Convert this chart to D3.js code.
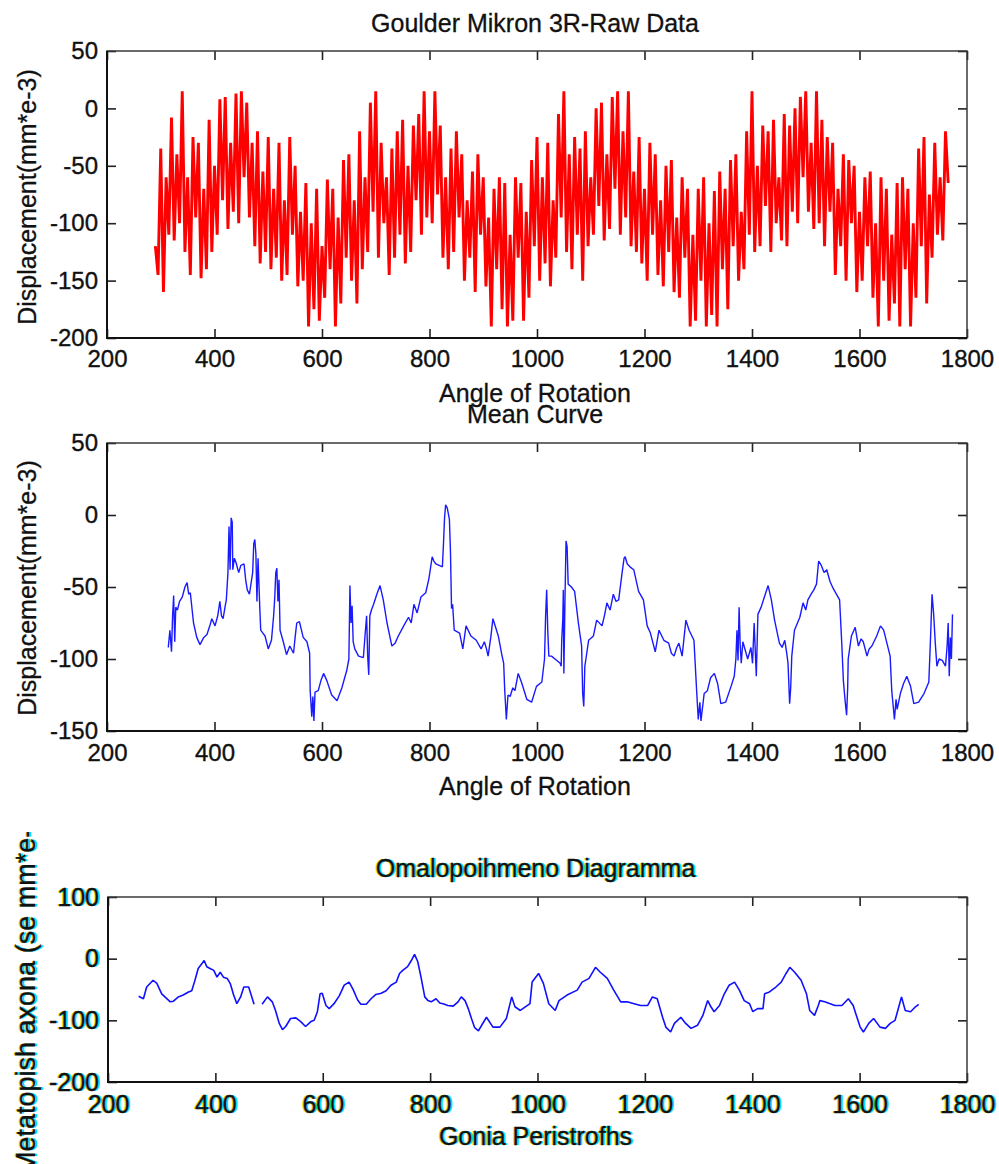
<!DOCTYPE html>
<html>
<head>
<meta charset="utf-8">
<script src="https://cdn.jsdelivr.net/npm/d3@7"></script>
<style>
  html, body { margin: 0; padding: 0; background: #fff; }
  svg { display: block; }
</style>
</head>
<body>
<svg id="chart" width="999" height="1164"></svg>
<script>
// ---- data -------------------------------------------------------------
const xTicks = [200, 400, 600, 800, 1000, 1200, 1400, 1600, 1800];
const rawYTicks = [50, 0, -50, -100, -150, -200];
const meanYTicks = [50, 0, -50, -100, -150];
const flatYTicks = [100, 0, -100, -200];

// raw probe readings, one every 5 degrees starting at 290 deg
const rawStart = 290, rawStep = 5;
const rawDisp = [
  -120, -145, -35, -160, -60, -110, -8, -115, -40, -100,
  15, -125, -60, -145, -25, -95, -30, -148, -70, -140,
  -10, -125, -50, -110, 8, -80, 10, -105, -30, -90,
  13, -100, 15, -60, 5, -95, -30, -120, -20, -135,
  -55, -125, -25, -140, -70, -130, -30, -150, -80, -145,
  -25, -110, -50, -155, -90, -150, -65, -190, -100, -175,
  -70, -185, -120, -165, -62, -140, -70, -190, -95, -170,
  -45, -130, -40, -150, -80, -170, -20, -140, -60, -125,
  5, -90, 15, -130, -30, -100, -60, -145, -35, -130,
  -20, -110, -10, -135, -50, -125, -15, -80, -5, -110,
  15, -95, -20, -100, 15, -75, -15, -130, -60, -140,
  -35, -125, -20, -95, -40, -150, -80, -130, -55, -160,
  -40, -110, -60, -155, -95, -190, -70, -140, -60, -175,
  -65, -190, -110, -185, -60, -130, -65, -185, -90, -165,
  -45, -120, -25, -150, -60, -135, -30, -155, -80, -130,
  -5, -95, 15, -125, -40, -140, -25, -110, -35, -150,
  -20, -120, -60, -110, 0, -85, 5, -115, -40, -105,
  10, -70, 15, -110, -20, -95, 15, -120, -55, -125,
  -25, -135, -70, -150, -30, -110, -40, -145, -80, -155,
  -50, -125, -45, -160, -95, -165, -60, -130, -70, -190,
  -110, -185, -70, -150, -60, -190, -100, -180, -72, -190,
  -55, -140, -70, -175, -45, -120, -40, -150, -90, -140,
  -20, -110, 15, -125, -50, -120, -15, -85, -20, -125,
  -10, -100, -60, -115, -5, -120, -15, -90, 0, -100,
  10, -60, 15, -90, -30, -105, 15, -100, -10, -120,
  -25, -90, -30, -145, -70, -120, -40, -150, -45, -100,
  -50, -160, -90, -150, -60, -120, -55, -165, -100, -190,
  -60, -150, -70, -185, -110, -170, -65, -190, -60, -140,
  -70, -190, -100, -165, -35, -120, -25, -170, -75, -130,
  -30, -110, -60, -115, -20, -65
];

// averaged curve
const meanAngle = [
  314, 317, 320, 322, 324, 326, 328, 331, 335, 340, 345, 349, 352, 355, 361, 367, 373, 380, 386, 392,
  395, 401, 406, 410, 413, 416, 420, 422, 425, 427, 429, 431, 433, 434, 437, 440, 445, 449, 455, 458,
  461, 465, 467, 471, 473, 475, 477, 479, 481, 484, 486, 490, 494, 500, 506, 510, 512, 514, 516, 518,
  520, 522, 528, 534, 540, 547, 550, 553, 558, 565, 572, 577, 578, 581, 583, 585, 587, 593, 598, 603,
  609, 618, 628, 637, 646, 650, 652, 654, 656, 658, 661, 668, 677, 680, 683, 685, 687, 689, 692, 696,
  702, 708, 714, 721, 730, 736, 742, 752, 761, 766, 771, 777, 784, 793, 799, 805, 808, 812, 818, 824,
  826, 828, 830, 833, 837, 839, 841, 843, 846, 856, 862, 868, 877, 887, 896, 902, 906, 909, 914, 918,
  923, 928, 934, 938, 940, 943, 946, 950, 955, 959, 965, 971, 981, 990, 999, 1009, 1014, 1016, 1018, 1020,
  1022, 1027, 1037, 1043, 1045, 1046, 1048, 1049, 1050, 1052, 1054, 1056, 1058, 1064, 1070, 1077, 1083, 1085, 1087, 1089,
  1091, 1096, 1105, 1111, 1121, 1126, 1130, 1136, 1142, 1147, 1152, 1158, 1162, 1164, 1168, 1173, 1180, 1189, 1198, 1205,
  1211, 1220, 1227, 1236, 1245, 1250, 1255, 1260, 1264, 1270, 1277, 1283, 1292, 1297, 1300, 1303, 1305, 1311, 1317, 1323,
  1330, 1336, 1342, 1351, 1361, 1367, 1370, 1372, 1374, 1376, 1378, 1380, 1383, 1392, 1398, 1401, 1404, 1408, 1411, 1417,
  1423, 1430, 1436, 1442, 1451, 1456, 1461, 1465, 1467, 1470, 1472, 1474, 1479, 1489, 1495, 1500, 1504, 1510, 1515, 1520,
  1524, 1529, 1534, 1539, 1545, 1551, 1557, 1563, 1567, 1570, 1573, 1576, 1578, 1579, 1585, 1592, 1598, 1603, 1607, 1614,
  1618, 1623, 1632, 1639, 1645, 1651, 1657, 1660, 1665, 1668, 1670, 1676, 1682, 1688, 1695, 1701, 1710, 1720, 1729, 1732,
  1735, 1738, 1741, 1744, 1748, 1754, 1760, 1763, 1765, 1767, 1769, 1771, 1773
];
const meanDisp = [
  -92, -80, -95, -70, -56, -88, -64, -66, -60, -57, -50, -47, -55, -54, -75, -85, -90, -85, -83, -76,
  -72, -77, -70, -60, -70, -72, -63, -59, -40, -8, -38, -2, -5, -38, -30, -33, -40, -35, -34, -45,
  -52, -55, -50, -40, -20, -17, -27, -60, -30, -62, -80, -82, -84, -93, -87, -70, -58, -40, -37, -60,
  -45, -80, -88, -97, -91, -96, -85, -75, -74, -85, -88, -96, -122, -140, -126, -143, -123, -122, -115, -110,
  -115, -125, -129, -120, -108, -100, -49, -75, -63, -88, -93, -98, -99, -84, -70, -98, -111, -70, -66, -62,
  -55, -49, -59, -75, -91, -89, -84, -77, -71, -75, -62, -68, -57, -54, -44, -29, -32, -34, -35, -36,
  -20, -2, 7, 5, -3, -25, -65, -62, -80, -82, -93, -77, -84, -87, -93, -88, -93, -98, -85, -72,
  -78, -84, -96, -103, -122, -142, -125, -126, -120, -122, -110, -116, -128, -130, -119, -116, -100, -70, -52, -80,
  -98, -98, -101, -103, -105, -87, -72, -52, -110, -60, -18, -22, -48, -50, -53, -75, -91, -124, -133, -105,
  -100, -87, -84, -73, -77, -69, -61, -66, -55, -60, -59, -41, -30, -29, -34, -36, -38, -53, -59, -77,
  -82, -95, -80, -87, -89, -96, -98, -92, -89, -98, -73, -80, -87, -122, -142, -130, -143, -124, -122, -113,
  -110, -117, -131, -130, -119, -112, -100, -80, -101, -64, -90, -103, -88, -100, -92, -103, -75, -112, -69, -64,
  -57, -49, -59, -73, -89, -92, -87, -97, -103, -131, -120, -98, -80, -71, -61, -66, -59, -55, -52, -48,
  -32, -35, -40, -38, -46, -51, -55, -59, -89, -115, -128, -139, -120, -100, -84, -78, -91, -86, -88, -98,
  -93, -91, -84, -77, -80, -89, -98, -122, -142, -128, -135, -124, -117, -112, -119, -131, -130, -124, -116, -87,
  -55, -69, -89, -105, -100, -101, -105, -91, -75, -112, -85, -100, -69
];

// smoothed curve (null marks the break in the trace)
const flatAngle = [
  257, 266, 272, 284, 291, 300, 306, 316, 322, 331, 340, 350, 356, 362, 368, 375, 379, 384, 390, 397,
  403, 409, 415, 422, 428, 434, 440, 447, 453, 462, 466, 472, 480, 487, 497, 506, 512, 519, 525, 531,
  540, 550, 559, 568, 578, 584, 590, 595, 599, 606, 612, 621, 631, 640, 649, 656, 665, 671, 681, 690,
  699, 709, 718, 727, 737, 743, 749, 758, 765, 771, 777, 783, 790, 796, 802, 811, 818, 824, 833, 843,
  852, 858, 865, 871, 877, 883, 890, 896, 905, 917, 930, 942, 952, 958, 968, 986, 990, 1002, 1011, 1021,
  1033, 1040, 1055, 1074, 1083, 1096, 1108, 1117, 1130, 1142, 1155, 1167, 1180, 1192, 1205, 1214, 1223, 1233, 1239, 1248,
  1255, 1267, 1276, 1286, 1298, 1308, 1317, 1323, 1329, 1339, 1348, 1357, 1367, 1376, 1385, 1395, 1401, 1410, 1420, 1423,
  1432, 1444, 1454, 1463, 1470, 1479, 1491, 1501, 1507, 1516, 1523, 1526, 1535, 1554, 1567, 1579, 1588, 1595, 1601, 1607,
  1617, 1626, 1638, 1648, 1657, 1666, 1673, 1678, 1685, 1695, 1704, 1710
];
const flatDisp = [
  -61, -65, -46, -35, -40, -57, -62, -70, -69, -62, -59, -54, -52, -35, -16, -8, -3, -13, -16, -19,
  -30, -22, -30, -32, -41, -59, -73, -62, -46, -46, -57, -74, null, -74, -62, -70, -84, -105, -115, -110,
  -97, -96, -102, -110, -102, -100, -86, -57, -56, -76, -81, -73, -60, -43, -38, -49, -67, -74, -74, -65,
  -58, -56, -52, -43, -38, -24, -19, -13, -3, 7, -5, -30, -62, -68, -70, -65, -72, -73, -76, -77,
  -70, -62, -68, -81, -97, -112, -117, -108, -95, -111, -111, -97, -62, -78, -84, -73, -38, -24, -40, -73,
  -84, -68, -59, -51, -38, -32, -14, -22, -32, -51, -70, -70, -73, -76, -76, -62, -65, -95, -111, -119,
  -105, -95, -105, -113, -108, -92, -68, -78, -86, -76, -57, -43, -38, -51, -68, -73, -86, -81, -81, -57,
  -54, -46, -38, -24, -14, -22, -35, -57, -84, -92, -76, -68, -70, -76, -76, -65, -76, -95, -111, -119,
  -105, -97, -111, -113, -105, -100, -78, -62, -84, -86, -78, -74
];

// ---- drawing ----------------------------------------------------------
const FONT = '"Liberation Sans", Arial, Helvetica, sans-serif';
const INK = '#111';
const svg = d3.select('#chart');

// the lowest panel's vertical label is cut at the top of its frame area
svg.append('defs').append('clipPath').attr('id', 'label-clip')
  .attr('clipPathUnits', 'userSpaceOnUse')
  .append('rect').attr('x', 0).attr('y', 832).attr('width', 80).attr('height', 332);

function addFringe(sel) {
  // coloured edge copies painted beneath each label
  sel.each(function () {
    const parent = this.parentNode;
    const base = this.getAttribute('transform') || '';
    [['#f0d000', -1.2], ['#00e0ff', 1.6]].forEach(([col, dx]) => {
      const c = this.cloneNode(true);
      c.setAttribute('fill', col);
      c.setAttribute('stroke', 'none');
      c.setAttribute('transform', `translate(${dx},0) ` + base);
      parent.insertBefore(c, this);
    });
  });
}

function drawPanel(p) {
  const g = svg.append('g');
  const x = d3.scaleLinear().domain([200, 1800]).range([p.left, p.right]);
  const y = d3.scaleLinear().domain(p.yDomain).range([p.bottom, p.top]);

  const styleAxis = a => {
    a.attr('font-family', FONT).attr('font-size', p.tickSize).attr('color', INK);
    a.select('.domain').remove();
    a.selectAll('.tick line').attr('stroke', '#222').attr('stroke-width', 1.6);
    a.selectAll('.tick text').attr('stroke', INK).attr('stroke-width', 0.35);
  };

  const ax = g.append('g').attr('transform', `translate(0,${p.bottom})`)
    .call(d3.axisBottom(x).tickValues(xTicks).tickSize(-9).tickPadding(p.xPad).tickFormat(d => String(d)));
  styleAxis(ax);
  const ay = g.append('g').attr('transform', `translate(${p.left},0)`)
    .call(d3.axisLeft(y).tickValues(p.yTicks).tickSize(-9).tickPadding(9).tickFormat(d => String(d)));
  styleAxis(ay);
  const at = g.append('g').attr('transform', `translate(0,${p.top})`)
    .call(d3.axisTop(x).tickValues(xTicks).tickSize(-9).tickFormat(''));
  styleAxis(at);
  const ar = g.append('g').attr('transform', `translate(${p.right},0)`)
    .call(d3.axisRight(y).tickValues(p.yTicks).tickSize(-9).tickFormat(''));
  styleAxis(ar);

  // frame
  g.append('rect')
    .attr('x', p.left).attr('y', p.top)
    .attr('width', p.right - p.left).attr('height', p.bottom - p.top)
    .attr('fill', 'none').attr('stroke', '#3a3a3a').attr('stroke-width', 1.5);
  g.append('path')
    .attr('d', `M${p.left},${p.top}V${p.bottom}H${p.right}`)
    .attr('fill', 'none').attr('stroke', '#111').attr('stroke-width', 2);

  // data trace
  const line = d3.line()
    .defined(d => d[1] != null)
    .x(d => x(d[0])).y(d => y(d[1]));
  g.append('path')
    .datum(p.points)
    .attr('d', line)
    .attr('fill', 'none')
    .attr('stroke', p.color)
    .attr('stroke-width', p.lineWidth)
    .attr('stroke-linejoin', 'bevel');

  // text
  const cx = (p.left + p.right) / 2 - 2;
  const texts = [];
  if (p.title) {
    texts.push(g.append('text').attr('x', cx).attr('y', p.titleY)
      .attr('text-anchor', 'middle').text(p.title));
  }
  texts.push(g.append('text').attr('x', cx).attr('y', p.xLabelY)
    .attr('text-anchor', 'middle').text(p.xLabel));
  const ylHolder = g.append('g');
  if (p.yLabelClip) ylHolder.attr('clip-path', 'url(#label-clip)');
  const yl = ylHolder.append('text')
    .attr('transform', `translate(${p.yLabelX},${p.yLabelY}) rotate(-90)`)
    .attr('text-anchor', p.yLabelAnchor)
    .attr('dy', '0.35em')
    .text(p.yLabel);
  texts.forEach(t => t.attr('font-family', FONT).attr('font-size', 25).attr('fill', INK)
    .attr('stroke', INK).attr('stroke-width', 0.3));
  yl.attr('font-family', FONT).attr('font-size', p.yLabelSize).attr('fill', INK)
    .attr('stroke', INK).attr('stroke-width', 0.3);
  texts.push(yl);

  if (p.fringe) {
    texts.forEach(t => addFringe(t));
    addFringe(ax.selectAll('.tick text'));
    addFringe(ay.selectAll('.tick text'));
  }
  return g;
}

const rawPoints = rawDisp.map((v, i) => [rawStart + i * rawStep, v]);
const meanPoints = meanAngle.map((a, i) => [a, meanDisp[i]]);
const flatPoints = flatAngle.map((a, i) => [a, flatDisp[i]]);

drawPanel({
  left: 107, right: 967, top: 51, bottom: 338,
  yDomain: [-200, 50], yTicks: rawYTicks,
  points: rawPoints, color: '#ff0000', lineWidth: 2.9,
  tickSize: 24, xPad: 12,
  title: 'Goulder Mikron 3R-Raw Data', titleY: 32,
  xLabel: 'Angle of Rotation', xLabelY: 402,
  yLabel: 'Displacement(mm*e-3)', yLabelX: 27, yLabelY: 197, yLabelAnchor: 'middle', yLabelSize: 25
});

drawPanel({
  left: 107, right: 967, top: 443, bottom: 731,
  yDomain: [-150, 50], yTicks: meanYTicks,
  points: meanPoints, color: '#1a1aff', lineWidth: 1.4,
  tickSize: 24, xPad: 13,
  title: 'Mean Curve', titleY: 423,
  xLabel: 'Angle of Rotation', xLabelY: 795,
  yLabel: 'Displacement(mm*e-3)', yLabelX: 27, yLabelY: 588, yLabelAnchor: 'middle', yLabelSize: 25
});

drawPanel({
  left: 108, right: 967, top: 897, bottom: 1082,
  yDomain: [-200, 100], yTicks: flatYTicks,
  points: flatPoints, color: '#1010ff', lineWidth: 1.6,
  tickSize: 25, xPad: 13,
  title: 'Omalopoihmeno Diagramma', titleY: 877,
  xLabel: 'Gonia Peristrofhs', xLabelY: 1145,
  yLabel: 'Metatopish axona (se mm*e-3)', yLabelX: 26, yLabelY: 1174, yLabelAnchor: 'start', yLabelSize: 27,
  yLabelClip: true, fringe: true
});
</script>
</body>
</html>
